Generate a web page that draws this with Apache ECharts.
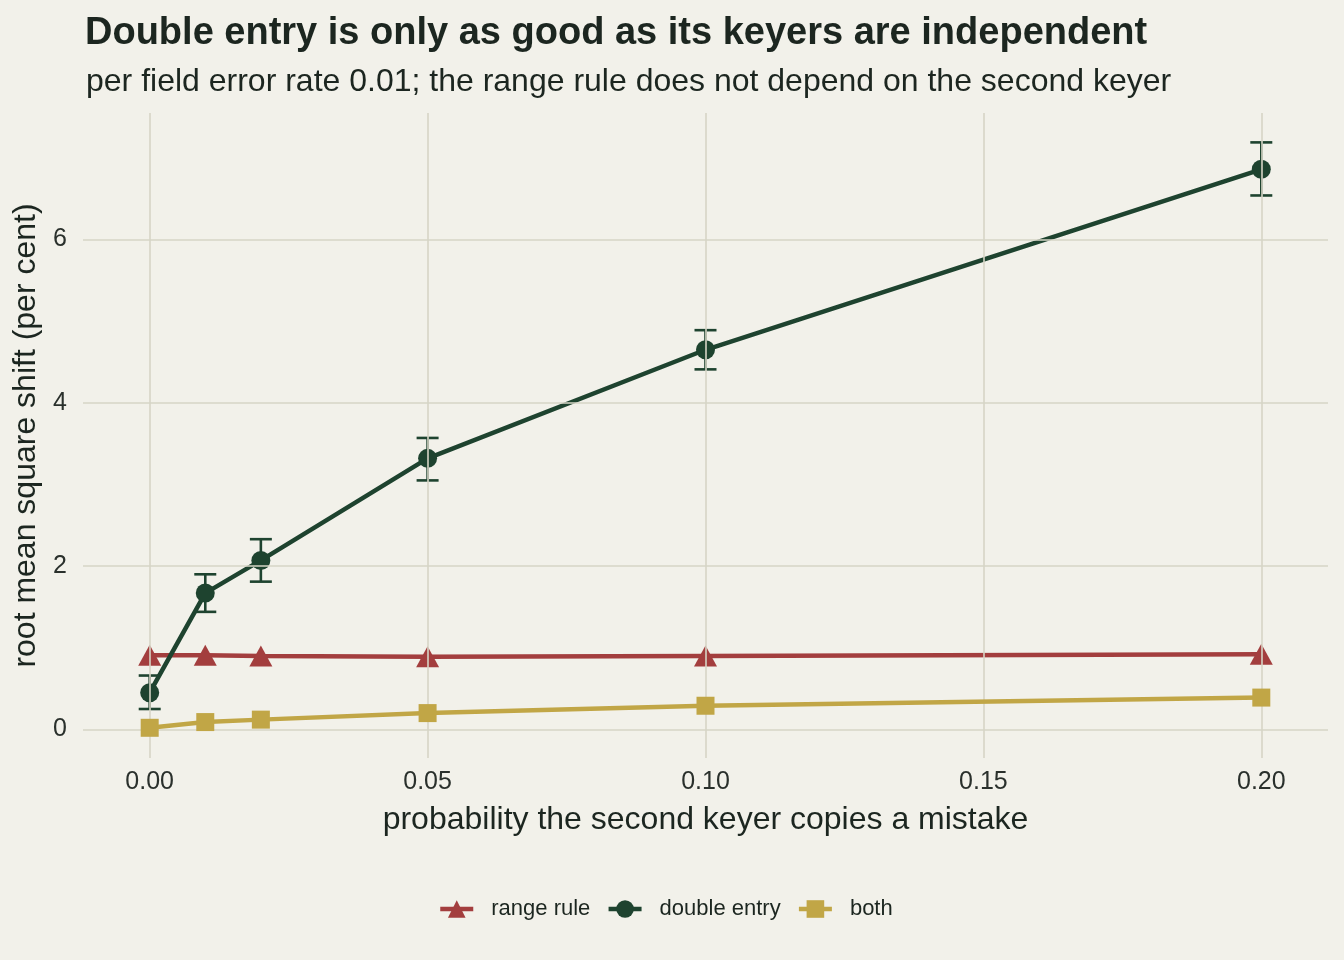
<!DOCTYPE html>
<html lang="en">
<head>
    <meta charset="UTF-8">
    <title>Double entry vs keyer independence</title>
    <script src="https://cdn.jsdelivr.net/npm/echarts@6.0.0/dist/echarts.min.js"></script>
    <style>
        body, html {
            margin: 0;
            padding: 0;
            width: 100%;
            height: 100%;
            overflow: hidden;
            background-color: #f2f1ea;
        }
        #chart {
            width: 1344px;
            height: 960px;
        }
    </style>
</head>
<body>
    <div id="chart"></div>
    <script>
        // probability the second keyer copies a mistake
        var probs = [0, 0.01, 0.02, 0.05, 0.10, 0.20];

        // root mean square shift (per cent)
        var rangeRule = [0.91, 0.91, 0.90, 0.89, 0.90, 0.92];
        var doubleEntry = [0.45, 1.67, 2.07, 3.32, 4.65, 6.86];
        var doubleLow = [0.25, 1.44, 1.81, 3.05, 4.41, 6.54];
        var doubleHigh = [0.66, 1.90, 2.33, 3.57, 4.89, 7.19];
        var both = [0.02, 0.09, 0.12, 0.20, 0.29, 0.39];

        // tick labels
        var xTicks = [0, 0.05, 0.10, 0.15, 0.20];
        var yTicks = [0, 2, 4, 6];

        var ink = '#1c2620';
        var gridCol = '#d6d5c6';
        var red = '#a33e3e';
        var green = '#1e432f';
        var gold = '#c1a646';
        var font = 'Liberation Sans, Arial, sans-serif';

        function pairs(ys) {
            return probs.map(function (p, i) { return [p, ys[i]]; });
        }
        function isTick(v, ticks) {
            return ticks.some(function (t) { return Math.abs(v - t) < 1e-9; });
        }

        var errData = probs.map(function (p, i) { return [p, doubleLow[i], doubleHigh[i]]; });

        var option = {
            backgroundColor: '#f2f1ea',
            textStyle: { fontFamily: font },
            title: [
                {
                    text: 'Double entry is only as good as its keyers are independent',
                    left: 80, top: 10,
                    textStyle: { fontSize: 38, fontWeight: 'bold', color: ink, fontFamily: font }
                },
                {
                    text: 'per field error rate 0.01; the range rule does not depend on the second keyer',
                    left: 81, top: 61,
                    textStyle: { fontSize: 32, fontWeight: 'normal', color: ink, fontFamily: font }
                }
            ],
            legend: {
                data: ['range rule', 'double entry', 'both'],
                left: 433,
                top: 893,
                itemWidth: 33,
                itemHeight: 22,
                itemGap: 16,
                lineStyle: { width: 4.5 },
                textStyle: { fontSize: 22, color: ink, fontFamily: font, padding: [0, 0, 0, 13] }
            },
            grid: { left: 83, right: 16, top: 113, bottom: 202 },
            xAxis: {
                type: 'value',
                min: -0.012,
                max: 0.212,
                interval: 0.001,
                name: 'probability the second keyer copies a mistake',
                nameLocation: 'middle',
                nameGap: 46,
                nameTextStyle: { fontSize: 32, color: ink },
                axisLine: { show: false },
                axisTick: { show: false },
                splitLine: { show: false },
                axisLabel: {
                    fontSize: 25, color: '#2a302c', margin: 12,
                    formatter: function (v) { return isTick(v, xTicks) ? v.toFixed(2) : ''; }
                }
            },
            yAxis: {
                type: 'value',
                min: -0.35,
                max: 7.55,
                interval: 0.05,
                name: 'root mean square shift (per cent)',
                nameLocation: 'middle',
                nameGap: 38,
                nameTextStyle: { fontSize: 32, color: ink },
                axisLine: { show: false },
                axisTick: { show: false },
                splitLine: { show: false },
                axisLabel: {
                    fontSize: 25, color: '#2a302c', margin: 16,
                    formatter: function (v) { return isTick(v, yTicks) ? String(Math.round(v)) : ''; }
                }
            },
            series: [
                {
                    // grid lines
                    name: 'grid',
                    type: 'line',
                    data: [],
                    silent: true,
                    z: 0,
                    markLine: {
                        silent: true,
                        symbol: 'none',
                        label: { show: false },
                        lineStyle: { color: gridCol, width: 1.6, type: 'solid' },
                        data: xTicks.map(function (t) { return { xAxis: t }; })
                            .concat(yTicks.map(function (t) { return { yAxis: t }; }))
                    }
                },
                {
                    name: 'range rule',
                    type: 'line',
                    data: pairs(rangeRule),
                    symbol: 'triangle',
                    symbolSize: [23, 21],
                    color: red,
                    lineStyle: { width: 4.5, color: red },
                    itemStyle: { color: red },
                    z: 3
                },
                {
                    name: 'double entry',
                    type: 'line',
                    data: pairs(doubleEntry),
                    symbol: 'circle',
                    symbolSize: 19,
                    color: green,
                    lineStyle: { width: 4.5, color: green },
                    itemStyle: { color: green },
                    z: 4
                },
                {
                    name: 'double entry error',
                    type: 'custom',
                    data: errData,
                    z: 4,
                    renderItem: function (params, api) {
                        var x = api.value(0);
                        var lo = api.coord([x, api.value(1)]);
                        var hi = api.coord([x, api.value(2)]);
                        var half = 11;
                        var st = { stroke: green, lineWidth: 2.6 };
                        return {
                            type: 'group',
                            children: [
                                { type: 'line', shape: { x1: lo[0], y1: lo[1], x2: hi[0], y2: hi[1] }, style: st },
                                { type: 'line', shape: { x1: lo[0] - half, y1: lo[1], x2: lo[0] + half, y2: lo[1] }, style: st },
                                { type: 'line', shape: { x1: hi[0] - half, y1: hi[1], x2: hi[0] + half, y2: hi[1] }, style: st }
                            ]
                        };
                    }
                },
                {
                    name: 'both',
                    type: 'line',
                    data: pairs(both),
                    symbol: 'rect',
                    symbolSize: 18,
                    color: gold,
                    lineStyle: { width: 4.5, color: gold },
                    itemStyle: { color: gold },
                    z: 5
                }
            ]
        };

        var chart = echarts.init(document.getElementById('chart'));
        chart.setOption(option);
    </script>
</body>
</html>
